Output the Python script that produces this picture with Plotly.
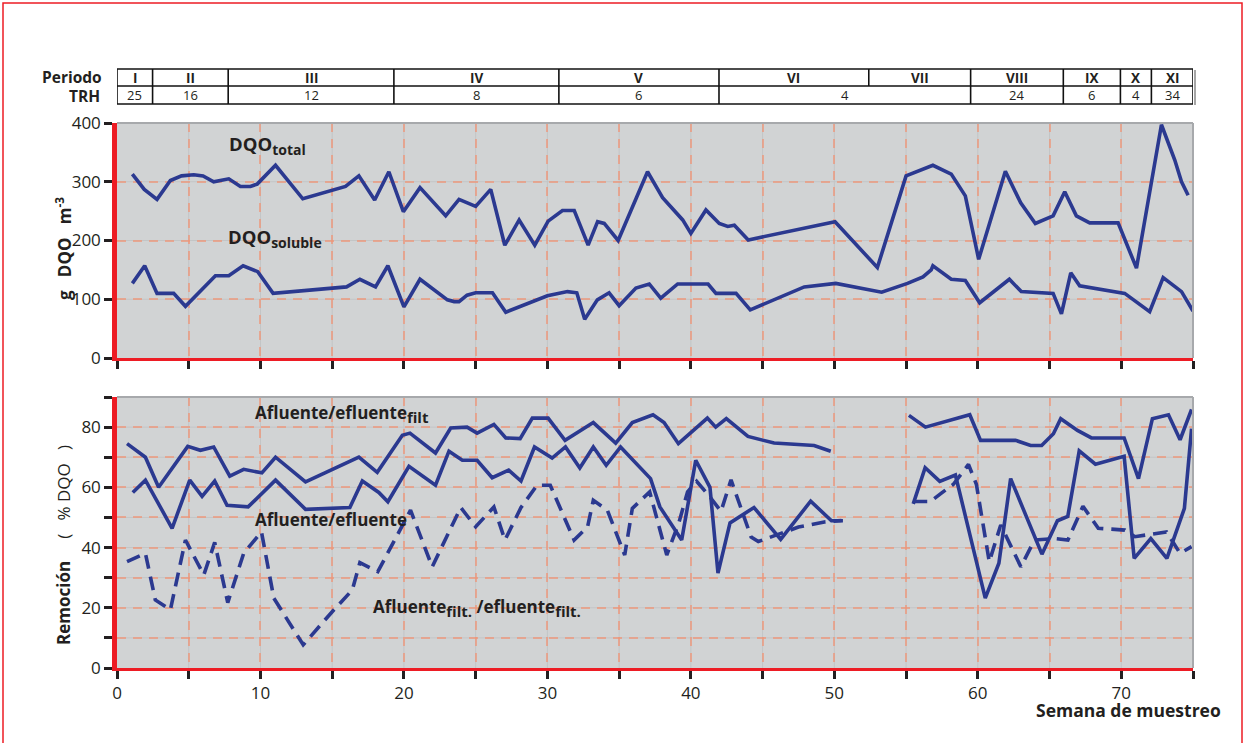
import plotly.graph_objects as go

# ---- DQO concentrations (g DQO m-3) per sampling week ----
total_week = [1.07, 1.9, 2.79, 3.72, 4.5, 5.35, 6.0, 6.74, 7.79, 8.6, 9.3, 9.77, 11.05, 12.95,
              15.93, 16.86, 17.96, 18.95, 19.96, 21.12, 22.91, 23.84, 25.0, 26.05, 27.03, 28.03,
              29.12, 30.05, 31.05, 31.87, 32.84, 33.5, 33.96, 34.93, 36.98, 38.03, 39.43, 40.0,
              41.05, 41.98, 42.57, 43.03, 44.0, 50.05, 53.0, 55.0, 56.87, 58.15, 59.13, 60.06,
              61.92, 62.99, 64.01, 65.25, 66.06, 66.87, 67.8, 69.78, 71.06, 72.8, 73.73, 74.2, 74.66]
total_dqo = [313, 287, 270, 302, 310, 312, 310, 300, 305, 292, 292, 296, 328, 271,
             292, 310, 269, 317, 249, 290, 242, 270, 258, 287, 192, 235,
             192, 233, 251, 251, 192, 232, 229, 200, 317, 273, 235, 212,
             252, 229, 224, 226, 201, 232, 154, 310, 328, 313, 276, 168,
             318, 264, 229, 242, 283, 242, 230, 230, 153, 397, 337, 300, 277]

soluble_week = [1.07, 1.93, 2.79, 3.95, 4.77, 6.86, 7.79, 8.79, 9.81, 10.88, 16.0, 16.93, 18.02,
                18.88, 20.0, 21.12, 23.03, 23.5, 23.84, 24.4, 25.0, 26.17, 27.1, 30.0, 31.4, 32.05,
                32.6, 33.48, 34.3, 35.0, 36.17, 37.1, 37.9, 39.08, 41.2, 41.75, 43.15, 44.14,
                47.9, 50.1, 53.3, 55.1, 56.18, 56.75, 56.87, 58.15, 59.13, 60.13, 62.2, 63.03,
                65.25, 65.83, 66.48, 67.1, 70.24, 71.98, 72.92, 74.2, 75.0]
soluble_dqo = [127, 157, 110, 110, 88, 140, 140, 157, 147, 110, 121, 134, 121,
               157, 87, 134, 99, 96, 96, 107, 111, 111, 78, 106, 113, 111,
               66, 99, 111, 89, 119, 126, 102, 126, 126, 110, 110, 82,
               121, 127, 112, 127, 138, 150, 157, 134, 132, 94, 134, 113,
               110, 75, 145, 123, 110, 79, 137, 113, 80]

# ---- DQO removal (%) per sampling week; None marks weeks without data ----
filt_week = [0.7, 1.98, 2.9, 4.93, 5.81, 6.74, 7.86, 8.83, 10.1, 11.05, 13.14, 16.86, 18.14,
             19.89, 20.42, 22.2, 23.26, 24.4, 25.1, 26.27, 27.1, 28.1, 28.95, 30.05, 31.23,
             33.2, 34.76, 35.92, 37.36, 38.13, 39.13, 41.15, 41.73, 42.47, 43.98, 45.8, 48.59,
             49.75, 52.5, 55.2, 56.35, 59.44, 60.19, 62.63, 63.68, 64.45, 65.27, 65.78, 66.95,
             67.92, 70.2, 71.2, 72.17, 73.29, 74.1, 74.9]
filt_rem = [74.5, 70, 60, 73.6, 72.3, 73.4, 63.7, 66, 64.8, 70, 61.8, 70, 65,
            77.3, 78, 71.4, 79.7, 80, 78, 80.9, 76.4, 76.2, 83, 83, 75.6,
            81.5, 74.7, 81.5, 84.1, 81.5, 74.5, 83, 80, 82.8, 76.9, 74.7, 73.9,
            72, None, 83.9, 80, 84.1, 75.6, 75.6, 73.9, 73.9, 77.8, 82.8, 78.9,
            76.4, 76.4, 62.9, 82.8, 84.1, 75.8, 85.9]

total_rem_week = [1.1, 1.98, 3.84, 5.07, 5.93, 6.81, 7.67, 9.14, 11.05, 13.14, 16.23, 17.1, 18.25,
                  18.88, 20.35, 22.2, 23.14, 24.07, 25.1, 26.15, 27.3, 28.16, 29.1, 30.33, 31.26,
                  32.26, 33.2, 34.1, 35.1, 37.19, 37.84, 39.36, 40.34, 41.33, 41.89, 42.73, 44.4,
                  46.26, 48.35, 49.8, 50.6, 53.0, 55.5, 56.33, 57.35, 58.44, 60.52, 61.47, 62.29,
                  64.47, 65.55, 66.27, 67.07, 68.2, 70.2, 70.9, 72.06, 73.18, 74.4, 74.9]
total_rem = [58.3, 62.4, 46.4, 62.4, 57, 62.1, 54, 53.5, 62.4, 52.7, 53.3, 62.1, 58.3,
             55.2, 67, 60.7, 72, 69, 69, 63.2, 65.7, 62.1, 73.4, 69.7, 73.4,
             66.4, 73.4, 67.3, 73.4, 62.9, 53.5, 42.5, 69, 60, 31.5, 48.2, 53.3,
             42.7, 55.4, 48.9, 48.9, None, 54.5, 66.5, 62, 64.1, 23.2, 34.8, 62.9,
             37.8, 48.9, 50.3, 72.1, 67.7, 70.3, 36.4, 43, 36.4, 53, 79.5]

filt_filt_week = [0.7, 1.98, 2.67, 3.72, 4.77, 6.05, 6.81, 7.72, 8.83, 10.07, 10.93, 12.98, 15.0,
                  16.4, 16.93, 18.18, 20.46, 21.97, 23.96, 25.0, 26.27, 27.04, 28.16, 29.28, 30.2,
                  31.86, 32.8, 33.2, 34.18, 35.39, 35.92, 37.13, 38.32, 39.18, 39.77, 40.4, 41.3,
                  42.1, 42.8, 44.2, 44.7, 47.5, 49.3, 50.5, 53.0, 55.5, 56.7, 57.44, 58.3, 59.35,
                  59.9, 60.8, 61.6, 63.0, 63.95, 65.35, 66.28, 67.33, 68.4, 70.25, 70.95, 73.15,
                  74.1, 74.9]
filt_filt_rem = [35.3, 38.1, 22.6, 19.3, 42.5, 30.9, 41.7, 21.7, 38.1, 45.2, 23.2, 7.7, 18.7,
                 25.9, 35, 32, 52.4, 33.6, 53.3, 46.9, 53.5, 42.5, 53.3, 60.7, 60.7,
                 42.5, 46.9, 55.7, 52.4, 37.5, 53, 58.5, 37.5, 48.5, 58.5, 62, 57,
                 52, 62.5, 43.5, 42, 46.8, 48.5, 49, None, 55.3, 55.3, 58, 61, 67.6,
                 61, 35.3, 47.5, 33.6, 42.5, 43, 42.5, 53.7, 46.4, 45.8, 43.6, 45.2,
                 38.1, 40.3]

# ---- Operating periods and hydraulic retention times (TRH) ----
period_edges = [0, 2.48, 7.75, 19.3, 30.8, 41.96, 52.4, 59.5, 65.96, 69.94, 72.1, 75]
period_names = ["I", "II", "III", "IV", "V", "VI", "VII", "VIII", "IX", "X", "XI"]
trh_edges = [0, 2.48, 7.75, 19.3, 30.8, 41.96, 59.5, 65.96, 69.94, 72.1, 75]
trh_values = ["25", "16", "12", "8", "6", "4", "24", "6", "4", "34"]

# ---- styling ----
FONT = "Open Sans"
TXT = "#231f20"
NAVY = "#2b3990"
RED = "#ed1c24"
BG = "#d1d3d4"
SALMON = "rgba(238,150,120,0.72)"
FAINT = "#c3c5c6"
NB = "\u00a0"  # non-breaking space keeps the wide gaps in axis titles

W, H = 1245, 743
ML, MR, MT, MB = 117, 52, 20, 75
PW, PH = W - ML - MR, H - MT - MB


def py(p):
    return (H - MB - p) / PH


def px(p):
    return (p - ML) / PW


fig = go.Figure()

line_kw = dict(color=NAVY, width=3.6)
fig.add_trace(go.Scatter(x=total_week, y=total_dqo, mode="lines", line=line_kw,
                         xaxis="x", yaxis="y", showlegend=False))
fig.add_trace(go.Scatter(x=soluble_week, y=soluble_dqo, mode="lines", line=line_kw,
                         xaxis="x", yaxis="y", showlegend=False))
fig.add_trace(go.Scatter(x=filt_week, y=filt_rem, mode="lines", line=line_kw,
                         xaxis="x2", yaxis="y2", showlegend=False, connectgaps=False))
fig.add_trace(go.Scatter(x=total_rem_week, y=total_rem, mode="lines", line=line_kw,
                         xaxis="x2", yaxis="y2", showlegend=False, connectgaps=False))
fig.add_trace(go.Scatter(x=filt_filt_week, y=filt_filt_rem, mode="lines",
                         line=dict(color=NAVY, width=3.6, dash="14px,8px"),
                         xaxis="x2", yaxis="y2", showlegend=False, connectgaps=False))

tickfont = dict(family=FONT, size=17, color=TXT)
grid_kw = dict(showgrid=True, gridcolor=SALMON, gridwidth=1.5, griddash="9px,7px")
tick_kw = dict(ticks="outside", ticklen=8, tickwidth=2.5, tickcolor=TXT)

top_dom = [py(358), py(123)]
bot_dom = [0, py(397)]

fig.update_layout(
    width=W, height=H,
    margin=dict(l=ML, r=MR, t=MT, b=MB, autoexpand=False),
    paper_bgcolor="white", plot_bgcolor=BG,
    font=dict(family=FONT, color=TXT),
    xaxis=dict(domain=[0, 1], anchor="y", range=[0, 75], dtick=5, showticklabels=False,
               showline=True, linecolor=RED, linewidth=2.5, zeroline=False, **tick_kw, **grid_kw),
    yaxis=dict(domain=top_dom, anchor="x", range=[0, 400], dtick=100, tickfont=tickfont,
               showline=True, linecolor=RED, linewidth=4.5, zeroline=False, **tick_kw, **grid_kw),
    xaxis2=dict(domain=[0, 1], anchor="y2", range=[0, 75], dtick=10, tickfont=tickfont,
                showline=True, linecolor=RED, linewidth=2.5, zeroline=False, **tick_kw, **grid_kw,
                minor=dict(dtick=5, ticks="outside", ticklen=8, tickwidth=2.5, tickcolor=TXT,
                           showgrid=True, gridcolor=SALMON, gridwidth=1.5, griddash="9px,7px")),
    yaxis2=dict(domain=bot_dom, anchor="x2", range=[0, 90], dtick=20, tickfont=tickfont,
                showline=True, linecolor=RED, linewidth=4.5, zeroline=False, **tick_kw, **grid_kw,
                minor=dict(dtick=10, ticks="outside", ticklen=8, tickwidth=2.5, tickcolor=TXT,
                           showgrid=True, gridcolor=SALMON, gridwidth=1.5, griddash="9px,7px")),
)

shapes = []
# faint solid grid beneath the dashed one
for xv in range(5, 75, 5):
    for xr, yr in (("x", "y domain"), ("x2", "y2 domain")):
        shapes.append(dict(type="line", xref=xr, yref=yr, x0=xv, x1=xv, y0=0, y1=1,
                           line=dict(color=FAINT, width=1), layer="below"))
for yv in range(100, 400, 100):
    shapes.append(dict(type="line", xref="x domain", yref="y", x0=0, x1=1, y0=yv, y1=yv,
                       line=dict(color=FAINT, width=1), layer="below"))
for yv in range(10, 90, 10):
    shapes.append(dict(type="line", xref="x2 domain", yref="y2", x0=0, x1=1, y0=yv, y1=yv,
                       line=dict(color=FAINT, width=1), layer="below"))
# grey top/right frame of each panel
for xr, yr in (("x domain", "y domain"), ("x2 domain", "y2 domain")):
    shapes.append(dict(type="line", xref=xr, yref=yr, x0=0, x1=1, y0=1, y1=1,
                       line=dict(color="#a7a9ac", width=2)))
    shapes.append(dict(type="line", xref=xr, yref=yr, x0=1, x1=1, y0=0, y1=1,
                       line=dict(color="#a7a9ac", width=2)))

# period / TRH table above the panels
t_top, t_mid, t_bot = py(69), py(86), py(104)
for y0 in (t_top, t_mid, t_bot):
    shapes.append(dict(type="line", xref="x", yref="paper", x0=0, x1=75, y0=y0, y1=y0,
                       line=dict(color="#111", width=1.6)))
for e in period_edges:
    shapes.append(dict(type="line", xref="x", yref="paper", x0=e, x1=e, y0=t_mid, y1=t_top,
                       line=dict(color="#111", width=1.6)))
for e in trh_edges:
    shapes.append(dict(type="line", xref="x", yref="paper", x0=e, x1=e, y0=t_bot, y1=t_mid,
                       line=dict(color="#111", width=1.6)))
# shadow on the right side of the table
shapes.append(dict(type="line", xref="paper", yref="paper", x0=px(1195), x1=px(1195),
                   y0=py(105), y1=py(70), line=dict(color="#888", width=1.5)))

# red page frame
shapes.append(dict(type="rect", xref="paper", yref="paper", x0=px(3), x1=px(1242),
                   y0=py(760), y1=py(3), line=dict(color=RED, width=1.5)))


def label(x, y, text, size, xref="paper", yref="paper", xanchor="center", angle=0):
    return dict(xref=xref, yref=yref, x=x, y=y, text=text, showarrow=False,
                xanchor=xanchor, yanchor="middle", textangle=angle,
                font=dict(family=FONT, size=size, color=TXT))


def sub(text, size):
    return f"<sub><span style='font-size:{size}px'>{text}</span></sub>"


annotations = []
for i, name in enumerate(period_names):
    annotations.append(label((period_edges[i] + period_edges[i + 1]) / 2, (t_top + t_mid) / 2,
                             f"<b>{name}</b>", 13.5, xref="x"))
for i, val in enumerate(trh_values):
    annotations.append(label((trh_edges[i] + trh_edges[i + 1]) / 2, (t_mid + t_bot) / 2,
                             val, 13, xref="x"))
annotations += [
    label(px(104), py(76.5), "<b>Periodo</b>", 15.5, xanchor="right"),
    label(px(102), py(95.5), "<b>TRH</b>", 15.5, xanchor="right"),
    label(px(63), py(249), f"<b>g{NB*3}DQO{NB*3}m<sup>-3</sup></b>", 17, angle=-90),
    label(px(63), py(545), f"<b>Remoción</b>{NB*5}({NB*3}%{NB}DQO{NB*3})", 17, angle=-90),
    label(px(1223), py(710), "<b>Semana de muestreo</b>", 17.5, xanchor="right"),
    label(7.7, 362, "<b>DQO" + sub("total", 14) + "</b>", 18.5, xref="x", yref="y",
          xanchor="left"),
    label(7.6, 204, "<b>DQO" + sub("soluble", 14) + "</b>", 18.5, xref="x", yref="y",
          xanchor="left"),
    label(9.45, 84.2, "<b>Afluente/efluente" + sub("filt", 15) + "</b>", 17, xref="x2",
          yref="y2", xanchor="left"),
    label(9.45, 49.3, "<b>Afluente/efluente</b>", 17, xref="x2", yref="y2", xanchor="left"),
    label(17.7, 20, "<b>Afluente" + sub("filt.", 15) + " /efluente" + sub("filt.", 15) + "</b>",
          17, xref="x2", yref="y2", xanchor="left"),
]

fig.update_layout(shapes=shapes, annotations=annotations)
fig.write_html("out.html")
